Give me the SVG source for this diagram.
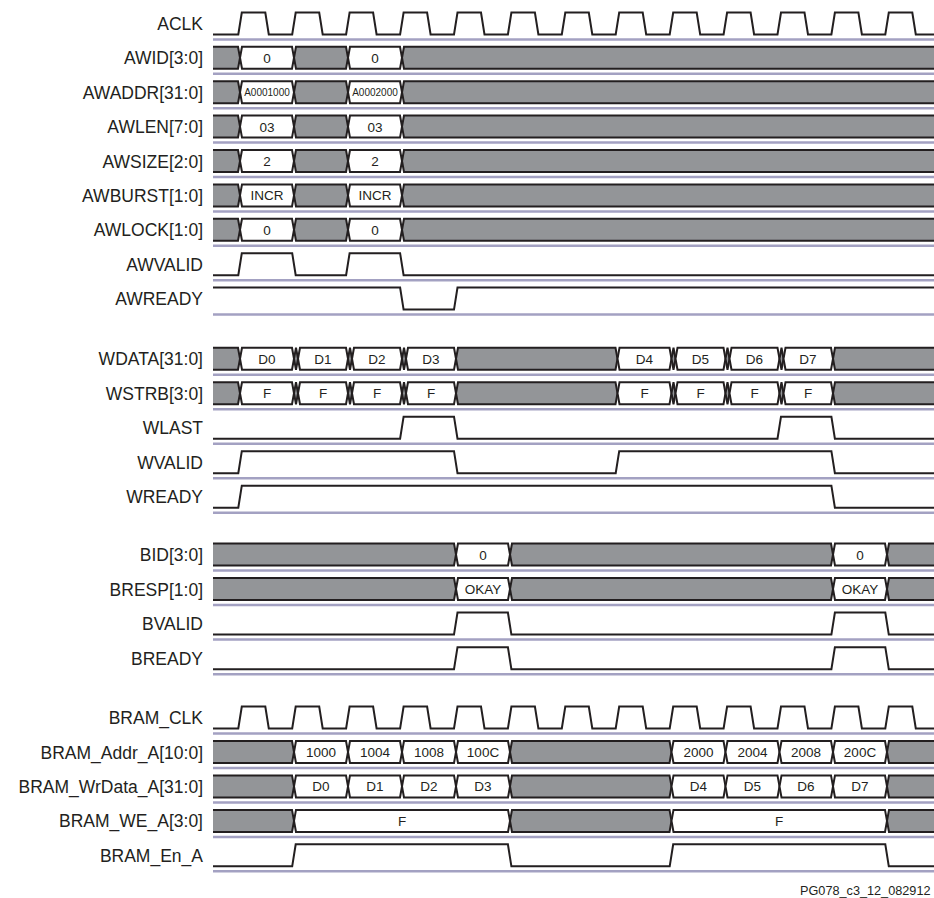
<svg xmlns="http://www.w3.org/2000/svg" xmlns:xlink="http://www.w3.org/1999/xlink" width="934" height="898" viewBox="0 0 934 898">
<style>
.lbl{font-family:"Liberation Sans",Arial,Helvetica,sans-serif;font-size:17.5px;fill:#231f20;text-anchor:end}
.val{font-family:"Liberation Sans",Arial,Helvetica,sans-serif;font-size:13.5px;fill:#231f20;text-anchor:middle}
.sm{font-size:10px}
.wave{fill:none;stroke:#231f20;stroke-width:2;stroke-linejoin:miter}
.g{fill:#939598;stroke:#231f20;stroke-width:2;stroke-linejoin:miter}
.w{fill:#ffffff;stroke:#231f20;stroke-width:2;stroke-linejoin:miter}
.sep{stroke:#a3a1c2;stroke-width:2.5}
.foot{font-family:"Liberation Sans",Arial,Helvetica,sans-serif;font-size:12.7px;fill:#231f20}
</style>
<defs>
<path id="clk" class="wave" d="M213,22 H238.3 L241.8,0 H265.3 L268.8,22 H292.2 L295.7,0 H319.2 L322.7,22 H346.1 L349.6,0 H373.1 L376.6,22 H400.1 L403.6,0 H427.1 L430.6,22 H454 L457.5,0 H481 L484.5,22 H507.9 L511.4,0 H534.9 L538.4,22 H561.8 L565.3,0 H588.8 L592.3,22 H615.7 L619.2,0 H642.7 L646.2,22 H669.7 L673.2,0 H696.7 L700.2,22 H723.6 L727.1,0 H750.6 L754.1,22 H777.5 L781,0 H804.5 L808,22 H831.4 L834.9,0 H858.4 L861.9,22 H885.3 L888.8,0 H912.3 L915.8,22 H934"/>
<line id="sep" class="sep" x1="213" y1="27" x2="934" y2="27"/>
<g id="awbus">
<path class="g" d="M213,0 H238 L240,11 L238,22 H213"/>
<polygon class="w" points="240,11 242,0 292,0 294,11 292,22 242,22"/>
<polygon class="g" points="294,11 296,0 346,0 348,11 346,22 296,22"/>
<polygon class="w" points="348,11 350,0 400,0 402,11 400,22 350,22"/>
<path class="g" d="M940,0 H404 L402,11 L404,22 H940"/>
</g>
<g id="wbus">
<path class="g" d="M213,0 H238 L240,11 L238,22 H213"/>
<polygon class="w" points="240,11 242,0 292,0 294,11 292,22 242,22"/>
<polygon class="g" points="294,11 296,0 298,11 296,22"/>
<polygon class="w" points="298,11 300,0 346,0 348,11 346,22 300,22"/>
<polygon class="g" points="348,11 350,0 352,11 350,22"/>
<polygon class="w" points="352,11 354,0 400,0 402,11 400,22 354,22"/>
<polygon class="g" points="402,11 404,0 406,11 404,22"/>
<polygon class="w" points="406,11 408,0 454,0 456,11 454,22 408,22"/>
<polygon class="g" points="456,11 458,0 615.5,0 617.5,11 615.5,22 458,22"/>
<polygon class="w" points="617.5,11 619.5,0 669.5,0 671.5,11 669.5,22 619.5,22"/>
<polygon class="g" points="671.5,11 673.5,0 675.5,11 673.5,22"/>
<polygon class="w" points="675.5,11 677.5,0 723.5,0 725.5,11 723.5,22 677.5,22"/>
<polygon class="g" points="725.5,11 727.5,0 729.5,11 727.5,22"/>
<polygon class="w" points="729.5,11 731.5,0 777.5,0 779.5,11 777.5,22 731.5,22"/>
<polygon class="g" points="779.5,11 781.5,0 783.5,11 781.5,22"/>
<polygon class="w" points="783.5,11 785.5,0 831,0 833,11 831,22 785.5,22"/>
<path class="g" d="M940,0 H835 L833,11 L835,22 H940"/>
</g>
<g id="bbus">
<path class="g" d="M213,0 H454 L456,11 L454,22 H213"/>
<polygon class="w" points="456,11 458,0 508,0 510,11 508,22 458,22"/>
<polygon class="g" points="510,11 512,0 831,0 833,11 831,22 512,22"/>
<polygon class="w" points="833,11 835,0 885,0 887,11 885,22 835,22"/>
<path class="g" d="M940,0 H889 L887,11 L889,22 H940"/>
</g>
<g id="brbus">
<path class="g" d="M213,0 H292 L294,11 L292,22 H213"/>
<polygon class="w" points="294,11 296,0 346,0 348,11 346,22 296,22"/>
<polygon class="w" points="348,11 350,0 400,0 402,11 400,22 350,22"/>
<polygon class="w" points="402,11 404,0 454,0 456,11 454,22 404,22"/>
<polygon class="w" points="456,11 458,0 508,0 510,11 508,22 458,22"/>
<polygon class="g" points="510,11 512,0 669.5,0 671.5,11 669.5,22 512,22"/>
<polygon class="w" points="671.5,11 673.5,0 723.5,0 725.5,11 723.5,22 673.5,22"/>
<polygon class="w" points="725.5,11 727.5,0 777.5,0 779.5,11 777.5,22 727.5,22"/>
<polygon class="w" points="779.5,11 781.5,0 831,0 833,11 831,22 781.5,22"/>
<polygon class="w" points="833,11 835,0 885,0 887,11 885,22 835,22"/>
<path class="g" d="M940,0 H889 L887,11 L889,22 H940"/>
</g>
<g id="webus">
<path class="g" d="M213,0 H292 L294,11 L292,22 H213"/>
<polygon class="w" points="294,11 296,0 508,0 510,11 508,22 296,22"/>
<polygon class="g" points="510,11 512,0 669.5,0 671.5,11 669.5,22 512,22"/>
<polygon class="w" points="671.5,11 673.5,0 885,0 887,11 885,22 673.5,22"/>
<path class="g" d="M940,0 H889 L887,11 L889,22 H940"/>
</g>
<path id="bpulse" class="wave" d="M213,22 H454 L457.5,0 H507.9 L511.4,22 H831.4 L834.9,0 H885.3 L888.8,22 H934"/>
</defs>

<g id="ACLK" transform="translate(0,12.5)">
<text class="lbl" x="203" y="17.5">ACLK</text>
<use xlink:href="#clk"/><use xlink:href="#sep"/>
</g>
<g id="AWID" transform="translate(0,46.8)">
<text class="lbl" x="203" y="17.5">AWID[3:0]</text>
<use xlink:href="#awbus"/><use xlink:href="#sep"/>
<text class="val" x="267" y="16">0</text><text class="val" x="375" y="16">0</text>
</g>
<g id="AWADDR" transform="translate(0,81.2)">
<text class="lbl" x="203" y="17.5">AWADDR[31:0]</text>
<use xlink:href="#awbus"/><use xlink:href="#sep"/>
<text class="val sm" x="267" y="15">A0001000</text><text class="val sm" x="375" y="15">A0002000</text>
</g>
<g id="AWLEN" transform="translate(0,115.6)">
<text class="lbl" x="203" y="17.5">AWLEN[7:0]</text>
<use xlink:href="#awbus"/><use xlink:href="#sep"/>
<text class="val" x="267" y="16">03</text><text class="val" x="375" y="16">03</text>
</g>
<g id="AWSIZE" transform="translate(0,150)">
<text class="lbl" x="203" y="17.5">AWSIZE[2:0]</text>
<use xlink:href="#awbus"/><use xlink:href="#sep"/>
<text class="val" x="267" y="16">2</text><text class="val" x="375" y="16">2</text>
</g>
<g id="AWBURST" transform="translate(0,184.4)">
<text class="lbl" x="203" y="17.5">AWBURST[1:0]</text>
<use xlink:href="#awbus"/><use xlink:href="#sep"/>
<text class="val" x="267" y="16">INCR</text><text class="val" x="375" y="16">INCR</text>
</g>
<g id="AWLOCK" transform="translate(0,218.8)">
<text class="lbl" x="203" y="17.5">AWLOCK[1:0]</text>
<use xlink:href="#awbus"/><use xlink:href="#sep"/>
<text class="val" x="267" y="16">0</text><text class="val" x="375" y="16">0</text>
</g>
<g id="AWVALID" transform="translate(0,253.2)">
<text class="lbl" x="203" y="17.5">AWVALID</text>
<path class="wave" d="M213,22 H238.3 L241.8,0 H292.2 L295.7,22 H346.1 L349.6,0 H400.1 L403.6,22 H934"/>
<use xlink:href="#sep"/>
</g>
<g id="AWREADY" transform="translate(0,287.6)">
<text class="lbl" x="203" y="17.5">AWREADY</text>
<path class="wave" d="M213,0 H400.1 L403.6,22 H454 L457.5,0 H934"/>
<use xlink:href="#sep"/>
</g>

<g id="WDATA" transform="translate(0,347.7)">
<text class="lbl" x="203" y="17.5">WDATA[31:0]</text>
<use xlink:href="#wbus"/><use xlink:href="#sep"/>
<text class="val" x="267" y="16">D0</text><text class="val" x="323" y="16">D1</text><text class="val" x="377" y="16">D2</text><text class="val" x="431" y="16">D3</text>
<text class="val" x="644.5" y="16">D4</text><text class="val" x="700.5" y="16">D5</text><text class="val" x="754.5" y="16">D6</text><text class="val" x="808" y="16">D7</text>
</g>
<g id="WSTRB" transform="translate(0,382.2)">
<text class="lbl" x="203" y="17.5">WSTRB[3:0]</text>
<use xlink:href="#wbus"/><use xlink:href="#sep"/>
<text class="val" x="267" y="16">F</text><text class="val" x="323" y="16">F</text><text class="val" x="377" y="16">F</text><text class="val" x="431" y="16">F</text>
<text class="val" x="644.5" y="16">F</text><text class="val" x="700.5" y="16">F</text><text class="val" x="754.5" y="16">F</text><text class="val" x="808" y="16">F</text>
</g>
<g id="WLAST" transform="translate(0,416.7)">
<text class="lbl" x="203" y="17.5">WLAST</text>
<path class="wave" d="M213,22 H400.1 L403.6,0 H454 L457.5,22 H777.5 L781,0 H831.4 L834.9,22 H934"/>
<use xlink:href="#sep"/>
</g>
<g id="WVALID" transform="translate(0,451.2)">
<text class="lbl" x="203" y="17.5">WVALID</text>
<path class="wave" d="M213,22 H238.3 L241.8,0 H454 L457.5,22 H615.7 L619.2,0 H831.4 L834.9,22 H934"/>
<use xlink:href="#sep"/>
</g>
<g id="WREADY" transform="translate(0,485.7)">
<text class="lbl" x="203" y="17.5">WREADY</text>
<path class="wave" d="M213,22 H238.3 L241.8,0 H831.4 L834.9,22 H934"/>
<use xlink:href="#sep"/>
</g>

<g id="BID" transform="translate(0,543.5)">
<text class="lbl" x="203" y="17.5">BID[3:0]</text>
<use xlink:href="#bbus"/><use xlink:href="#sep"/>
<text class="val" x="483" y="16">0</text><text class="val" x="860" y="16">0</text>
</g>
<g id="BRESP" transform="translate(0,578)">
<text class="lbl" x="203" y="17.5">BRESP[1:0]</text>
<use xlink:href="#bbus"/><use xlink:href="#sep"/>
<text class="val" x="483" y="16">OKAY</text><text class="val" x="860" y="16">OKAY</text>
</g>
<g id="BVALID" transform="translate(0,612.6)">
<text class="lbl" x="203" y="17.5">BVALID</text>
<use xlink:href="#bpulse"/><use xlink:href="#sep"/>
</g>
<g id="BREADY" transform="translate(0,647.2)">
<text class="lbl" x="203" y="17.5">BREADY</text>
<use xlink:href="#bpulse"/><use xlink:href="#sep"/>
</g>

<g id="BRAM_CLK" transform="translate(0,706.5)">
<text class="lbl" x="203" y="17.5">BRAM_CLK</text>
<use xlink:href="#clk"/><use xlink:href="#sep"/>
</g>
<g id="BRAM_Addr_A" transform="translate(0,741)">
<text class="lbl" x="203" y="17.5">BRAM_Addr_A[10:0]</text>
<use xlink:href="#brbus"/><use xlink:href="#sep"/>
<text class="val" x="321" y="16">1000</text><text class="val" x="375" y="16">1004</text><text class="val" x="429" y="16">1008</text><text class="val" x="483" y="16">100C</text>
<text class="val" x="698.5" y="16">2000</text><text class="val" x="752.5" y="16">2004</text><text class="val" x="806" y="16">2008</text><text class="val" x="860" y="16">200C</text>
</g>
<g id="BRAM_WrData_A" transform="translate(0,775.4)">
<text class="lbl" x="203" y="17.5">BRAM_WrData_A[31:0]</text>
<use xlink:href="#brbus"/><use xlink:href="#sep"/>
<text class="val" x="321" y="16">D0</text><text class="val" x="375" y="16">D1</text><text class="val" x="429" y="16">D2</text><text class="val" x="483" y="16">D3</text>
<text class="val" x="698.5" y="16">D4</text><text class="val" x="752.5" y="16">D5</text><text class="val" x="806" y="16">D6</text><text class="val" x="860" y="16">D7</text>
</g>
<g id="BRAM_WE_A" transform="translate(0,809.9)">
<text class="lbl" x="203" y="17.5">BRAM_WE_A[3:0]</text>
<use xlink:href="#webus"/><use xlink:href="#sep"/>
<text class="val" x="402" y="16">F</text><text class="val" x="779" y="16">F</text>
</g>
<g id="BRAM_En_A" transform="translate(0,844.3)">
<text class="lbl" x="203" y="17.5">BRAM_En_A</text>
<path class="wave" d="M213,22 H292.2 L295.7,0 H507.9 L511.4,22 H669.7 L673.2,0 H885.3 L888.8,22 H934"/>
<use xlink:href="#sep"/>
</g>
<g id="connectors"/>
<text class="foot" x="800" y="895">PG078_c3_12_082912</text>
</svg>
